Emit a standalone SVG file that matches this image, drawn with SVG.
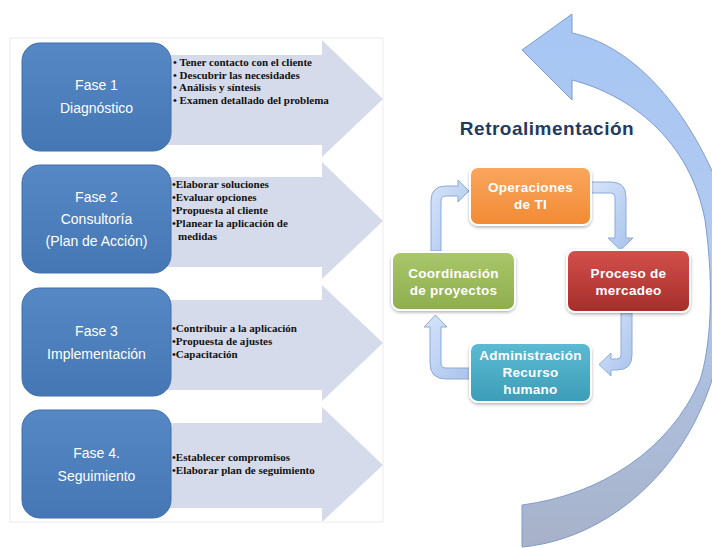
<svg xmlns="http://www.w3.org/2000/svg" width="712" height="548" viewBox="0 0 712 548">
<defs>
<linearGradient id="gBox" x1="0" y1="0" x2="0" y2="1"><stop offset="0" stop-color="#5588c4"/><stop offset="1" stop-color="#4677b5"/></linearGradient>
<linearGradient id="gBig" x1="0" y1="0" x2="0" y2="1"><stop offset="0" stop-color="#a6c6f4"/><stop offset="0.45" stop-color="#b3caf0"/><stop offset="1" stop-color="#a7b2c9"/></linearGradient>
<linearGradient id="gOr" x1="0" y1="0" x2="0" y2="1"><stop offset="0" stop-color="#f9a65e"/><stop offset="1" stop-color="#f28b34"/></linearGradient>
<linearGradient id="gRed" x1="0" y1="0" x2="0" y2="1"><stop offset="0" stop-color="#d3504c"/><stop offset="1" stop-color="#a52d2a"/></linearGradient>
<linearGradient id="gGr" x1="0" y1="0" x2="0" y2="1"><stop offset="0" stop-color="#a9c76b"/><stop offset="1" stop-color="#8eae4d"/></linearGradient>
<linearGradient id="gTe" x1="0" y1="0" x2="0" y2="1"><stop offset="0" stop-color="#5cbad3"/><stop offset="1" stop-color="#3c9db8"/></linearGradient>
<linearGradient id="gCon" x1="0" y1="0" x2="1" y2="1"><stop offset="0" stop-color="#d6e4fa"/><stop offset="1" stop-color="#a9c3ec"/></linearGradient>
<filter id="sh" x="-10%" y="-10%" width="130%" height="140%"><feDropShadow dx="0" dy="1.5" stdDeviation="1.5" flood-color="#000" flood-opacity="0.3"/></filter>
</defs>
<style>
.band{fill:#d5dbea}
.phase{fill:url(#gBox);stroke:#3f6ea8;stroke-width:1}
.ptxt{font-family:"Liberation Sans",Arial,sans-serif;font-size:14px;fill:#fff;text-anchor:middle}
.btxt{font-family:"Liberation Serif","Times New Roman",serif;font-size:11px;font-weight:bold;fill:#111}
.node{stroke:#fff;stroke-width:2;filter:url(#sh)}
.ntxt{font-family:"Liberation Sans",Arial,sans-serif;font-size:13.5px;font-weight:bold;fill:#fff;text-anchor:middle;letter-spacing:0.3px}
.con{fill:url(#gCon);stroke:#8eaad8;stroke-width:1}
.title{font-family:"Liberation Sans",Arial,sans-serif;font-size:19px;font-weight:bold;fill:#1f3b63;text-anchor:middle;letter-spacing:0.5px}
</style>
<rect width="712" height="548" fill="#fff"/>
<rect x="10" y="38" width="373" height="484" fill="none" stroke="#ececec" stroke-width="1"/>

<g id="phase1">
<path class="band" d="M150,55 L322,55 L322,40 L383,99 L322,157 L322,145 L150,145 Z"/>
<rect class="phase" x="22" y="43" width="149" height="108" rx="18"/>
<text class="ptxt" x="96.5" y="90">Fase 1</text>
<text class="ptxt" x="96.5" y="113">Diagnóstico</text>
<text class="btxt" x="173" y="66">• Tener contacto con el cliente</text>
<text class="btxt" x="173" y="78.5">• Descubrir las necesidades</text>
<text class="btxt" x="173" y="91">• Análisis y síntesis</text>
<text class="btxt" x="173" y="103.5">• Examen detallado del problema</text>
</g>

<g id="phase2">
<path class="band" d="M150,177 L322,177 L322,162 L383,221 L322,279 L322,267 L150,267 Z"/>
<rect class="phase" x="22" y="165" width="149" height="108" rx="18"/>
<text class="ptxt" x="96.5" y="202">Fase 2</text>
<text class="ptxt" x="96.5" y="224">Consultoría</text>
<text class="ptxt" x="96.5" y="246">(Plan de Acción)</text>
<text class="btxt" x="172" y="188">•Elaborar soluciones</text>
<text class="btxt" x="172" y="201">•Evaluar opciones</text>
<text class="btxt" x="172" y="214">•Propuesta al cliente</text>
<text class="btxt" x="172" y="227">•Planear la aplicación de</text>
<text class="btxt" x="178" y="240">medidas</text>
</g>

<g id="phase3">
<path class="band" d="M150,300 L322,300 L322,285 L383,343 L322,401 L322,390 L150,390 Z"/>
<rect class="phase" x="22" y="288" width="149" height="108" rx="18"/>
<text class="ptxt" x="96.5" y="335.5">Fase 3</text>
<text class="ptxt" x="96.5" y="358.5">Implementación</text>
<text class="btxt" x="172" y="332">•Contribuir a la aplicación</text>
<text class="btxt" x="172" y="345">•Propuesta de ajustes</text>
<text class="btxt" x="172" y="358">•Capacitación</text>
</g>

<g id="phase4">
<path class="band" d="M150,423 L322,423 L322,407 L383,465 L322,522 L322,508 L150,508 Z"/>
<rect class="phase" x="22" y="410" width="149" height="108" rx="18"/>
<text class="ptxt" x="96.5" y="457.5">Fase 4.</text>
<text class="ptxt" x="96.5" y="480.5">Seguimiento</text>
<text class="btxt" x="172" y="461">•Establecer compromisos</text>
<text class="btxt" x="172" y="474">•Elaborar plan de seguimiento</text>
</g>

<g id="feedback-arrow">
<path d="M522,505 L522,547 C600,540 680,480 712,380 C735,300 735,220 713,173 C680,100 630,45 572,33 L572,14 L522,50 L572,100 L572,80 C630,95 690,140 705,220 C715,290 710,350 700,380 C670,450 600,495 522,505 Z" fill="url(#gBig)" stroke="#7f9cc9" stroke-width="1"/>
</g>

<text id="title" class="title" x="547" y="135">Retroalimentación</text>

<g id="connectors">
<path class="con" d="M431,251 L431,201 Q431,186 446,186 L458,186 L458,180 L469,191 L458,202 L458,196 L446,196 Q441,196 441,201 L441,251 Z"/>
<path class="con" d="M591,182 L611,182 Q626,182 626,197 L626,238 L633,238 L620.5,250 L608,238 L615,238 L615,197 Q615,193 611,193 L591,193 Z"/>
<path class="con" d="M621,313 L632,313 L632,355 Q632,370 617,370 L611,370 L611,376 L599,364.5 L611,353 L611,359 L617,359 Q621,359 621,355 Z"/>
<path class="con" d="M471,368 L446,368 Q441,368 441,363 L441,327 L447,327 L435.5,315 L424,327 L430,327 L430,363 Q430,379 446,379 L471,379 Z"/>
</g>

<g id="node-operaciones">
<rect class="node" x="470" y="167" width="121" height="58" rx="8" fill="url(#gOr)"/>
<text class="ntxt" x="530.5" y="192">Operaciones</text>
<text class="ntxt" x="530.5" y="209">de TI</text>
</g>
<g id="node-proceso">
<rect class="node" x="567" y="250" width="123" height="62" rx="8" fill="url(#gRed)"/>
<text class="ntxt" x="628.5" y="277.5">Proceso de</text>
<text class="ntxt" x="628.5" y="294.5">mercadeo</text>
</g>
<g id="node-coordinacion">
<rect class="node" x="392" y="252" width="123" height="58" rx="8" fill="url(#gGr)"/>
<text class="ntxt" x="453.5" y="277.5">Coordinación</text>
<text class="ntxt" x="453.5" y="294.5">de proyectos</text>
</g>
<g id="node-administracion">
<rect class="node" x="470" y="343" width="121" height="59" rx="8" fill="url(#gTe)"/>
<text class="ntxt" x="530.5" y="360">Administración</text>
<text class="ntxt" x="530.5" y="377">Recurso</text>
<text class="ntxt" x="530.5" y="394">humano</text>
</g>
</svg>
